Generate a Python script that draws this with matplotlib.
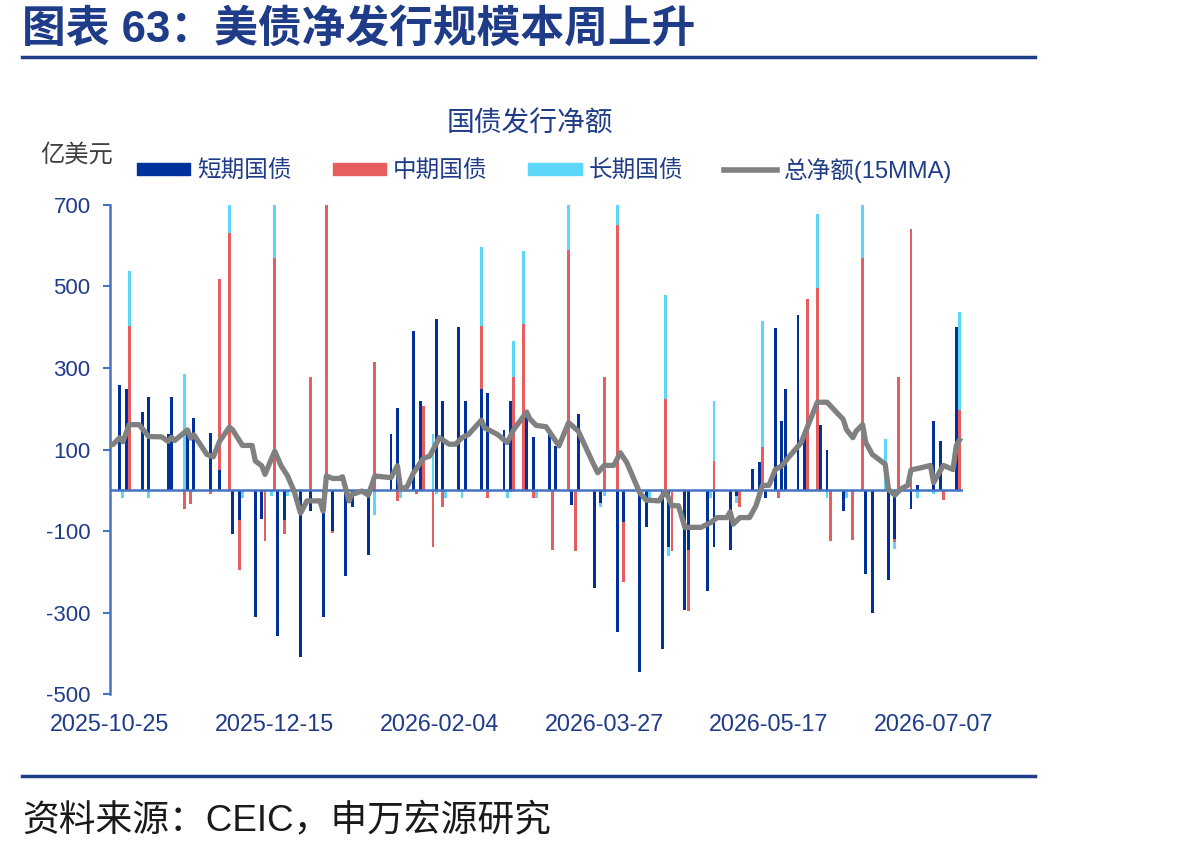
import matplotlib
matplotlib.use("Agg")
import matplotlib.pyplot as plt
import matplotlib.dates as mdates
from matplotlib.patches import Patch
from matplotlib.lines import Line2D
import numpy as np
import pandas as pd

plt.rcParams['font.family'] = ['Liberation Sans', 'Noto Sans CJK SC', 'DejaVu Sans']
plt.rcParams['axes.unicode_minus'] = False

# 数据：日期为距 2025-10-25 的天数，单位：亿美元
start = pd.Timestamp('2025-10-25')

bar_day = [3, 4, 5, 6, 10, 12, 18, 19, 23, 24, 25, 26, 31, 34, 37, 38, 40, 41, 45, 47,
           48, 50, 51, 52, 54, 55, 59, 62, 66, 67, 69, 73, 75, 76, 80, 82, 87, 89, 90, 94,
           95, 96, 97, 100, 101, 103, 104, 108, 109, 110, 115, 117, 122, 123, 124, 125, 128, 129, 131, 132,
           136, 137, 138, 142, 143, 144, 145, 150, 152, 153, 157, 159, 164, 166, 167, 171, 172, 173, 174, 178,
           179, 185, 186, 187, 192, 194, 195, 199, 201, 202, 203, 206, 207, 208, 209, 213, 215, 216, 219, 220,
           222, 223, 227, 228, 230, 233, 234, 236, 240, 241, 243, 244, 248, 250, 255, 257, 258, 262, 263]
short_term = [259, 0, 249, 0, 192, 229, 137, 229, 0, 149, 0, 178, 141, 49, 0, -108, -73, 0, -310, -71,
              0, 0, 0, -358, -73, 0, -410, -50, -310, 0, -100, -210, -40, 0, -160, 0, 137, 202, 0, 390,
              0, 219, 0, 0, 421, 219, 0, 401, 0, 219, 249, 239, 149, 0, 219, 0, 0, 182, 131, 0,
              140, 0, 108, 0, -37, 0, 188, -240, -32, 0, -348, -79, -446, -91, 0, -389, 0, -140, 0, -294,
              -146, -246, 0, -139, -146, -14, 0, 53, 69, 0, -18, 398, 0, 171, 249, 431, 148, 0, 0, 160,
              100, 0, -51, 0, 0, 0, -206, -301, 0, -220, -120, 0, -47, 12, 171, 121, 0, 401, 0]
mid_term = [0, 0, 0, 402, 0, 0, 0, 0, -45, 0, -34, 0, -10, 469, 631, 0, -122, 0, 0, 0,
            -124, 0, 570, 0, -35, 0, 0, 278, 0, 710, -5, 0, 0, 0, 0, 315, 0, -26, 0, 0,
            -8, 0, 208, -139, 0, -40, 0, 0, 0, 0, 155, -18, 0, 0, -5, 278, 408, 0, -20, 0,
            0, -146, 0, 590, 0, -149, 0, 0, 0, 278, 651, -147, 0, 0, 0, 0, 223, 0, -149, 0,
            -151, 0, 0, 73, 0, 0, -40, 0, 0, 107, 0, 0, -18, 0, 0, 0, 0, 469, 496, 0,
            0, -124, 0, 0, -122, 570, 0, 0, 0, 0, -8, 278, 641, 0, 0, 0, -24, 0, 196]
long_term = [0, -20, 0, 137, 0, -20, 0, 0, 286, 0, 0, -5, 0, 0, 100, 0, 0, -20, 0, 0,
             0, -15, 140, 0, 0, -15, 0, 0, 0, 0, 0, 0, 0, -15, 0, -61, 0, 0, -20, 0,
             0, 0, 0, 137, -8, 0, -20, 0, -20, 0, 192, 0, 0, -20, 0, 88, 178, 0, 0, -20,
             0, 0, 0, 130, 0, 0, 0, 0, -10, -15, 60, 0, 0, 0, -20, 0, 255, -21, 0, 0,
             0, 0, -20, 146, 0, -18, 0, 0, 0, 308, 0, 0, 0, 0, 0, 0, 0, 0, 181, 0,
             -20, 0, 0, -20, 0, 140, 0, 0, 126, 0, -15, 0, 0, -20, -10, 0, 0, 0, 241]

mma_day = [0, 1, 3, 4, 6, 9, 12, 16, 18, 19, 20, 24, 25, 26, 30, 32, 34, 37, 38, 41,
           44, 45, 47, 48, 51, 53, 55, 57, 59, 61, 65, 66, 67, 69, 71, 72, 74, 75, 78, 80,
           82, 87, 89, 90, 92, 94, 97, 99, 102, 105, 107, 109, 111, 115, 116, 120, 123, 125, 129, 130,
           132, 135, 139, 142, 145, 149, 151, 153, 156, 158, 160, 164, 166, 170, 172, 174, 176, 178, 183, 186,
           188, 191, 192, 193, 195, 198, 200, 202, 204, 206, 208, 210, 214, 216, 219, 222, 227, 228, 230, 231,
           233, 234, 236, 240, 241, 243, 245, 247, 248, 251, 254, 255, 258, 261, 262, 263]
mma_value = [110, 113, 129, 119, 161, 161, 132, 131, 120, 130, 122, 148, 128, 136, 88, 82, 121, 155, 148, 110,
             110, 72, 60, 39, 96, 60, 35, -2, -56, -26, -26, -51, 35, 29, 29, 33, -26, -10, -2, -12,
             35, 31, 60, 2, 9, 43, 78, 84, 129, 113, 113, 129, 137, 172, 153, 137, 117, 149, 192, 175,
             159, 156, 109, 166, 145, 76, 43, 61, 61, 92, 68, -6, -24, -26, -2, -38, -38, -91, -91, -79,
             -67, -67, -53, -83, -67, -67, -38, 12, 12, 51, 60, 80, 117, 157, 216, 216, 174, 149, 129, 145,
             161, 117, 88, 64, 2, -12, 4, 12, 50, 55, 61, 19, 61, 51, 109, 123]

series_names = ['短期国债', '中期国债', '长期国债']
line_name = '总净额(15MMA)'
tick_dates = ['2025-10-25', '2025-12-15', '2026-02-04', '2026-03-27', '2026-05-17', '2026-07-07']
y_ticks = [-500, -300, -100, 100, 300, 500, 700]

colors = ['#00309A', '#E85D5D', '#5ED6FA']
line_color = '#808080'
axis_blue = '#4472C4'
text_blue = '#1F3C88'

bar_dates = start + pd.to_timedelta(bar_day, unit='D')
mma_dates = start + pd.to_timedelta(mma_day, unit='D')

fig = plt.figure(figsize=(11.9, 8.52), dpi=100)
ax = fig.add_axes([0.0924, 0.1854, 0.7166, 0.574])

# 堆积柱：正值向上堆，负值向下堆
pos_base = np.zeros(len(bar_day))
neg_base = np.zeros(len(bar_day))
for vals, c in zip([short_term, mid_term, long_term], colors):
    vals = np.array(vals, dtype=float)
    pos = np.where(vals > 0, vals, 0)
    neg = np.where(vals < 0, vals, 0)
    ax.bar(bar_dates, pos, width=0.9, bottom=pos_base, color=c, linewidth=0, zorder=2)
    ax.bar(bar_dates, neg, width=0.9, bottom=neg_base, color=c, linewidth=0, zorder=2)
    pos_base += pos
    neg_base += neg

ax.plot(mma_dates, mma_value, color=line_color, lw=3.8, solid_joinstyle='round', zorder=4)
ax.axhline(0, color=axis_blue, lw=1.8, zorder=3)

ax.set_ylim(-500, 700)
ax.set_xlim(start, start + pd.Timedelta(days=264))
ax.set_yticks(y_ticks)
ax.set_yticklabels([str(v) for v in y_ticks])
ax.set_xticks(pd.to_datetime(tick_dates))
ax.xaxis.set_major_formatter(mdates.DateFormatter('%Y-%m-%d'))

for s in ['top', 'right', 'bottom']:
    ax.spines[s].set_visible(False)
ax.spines['left'].set_color(axis_blue)
ax.spines['left'].set_linewidth(1.8)
ax.tick_params(axis='y', colors=axis_blue, labelcolor=text_blue, labelsize=16,
               length=5, width=1.5, pad=9)
ax.tick_params(axis='x', length=0, labelcolor=text_blue, labelsize=16.8, pad=14)

# 标题与图例
fig.text(0.0185, 0.965, '图表 63：美债净发行规模本周上升', fontsize=31.5, fontweight='bold',
         color=text_blue, va='center', ha='left')
fig.add_artist(Line2D([0.0185, 0.870], [0.933, 0.933], color=text_blue, lw=2.5))
fig.add_artist(Line2D([0.0185, 0.870], [0.0892, 0.0892], color=text_blue, lw=2.5))
fig.text(0.0185, 0.037, '资料来源：CEIC，申万宏源研究', fontsize=26.5, color='#1a1a1a',
         va='center', ha='left')

fig.text(0.445, 0.854, '国债发行净额', fontsize=20, color=text_blue, ha='center', va='center')
fig.text(0.0336, 0.818, '亿美元', fontsize=17.5, color='#404040', ha='left', va='center')

handles = [Patch(color=c) for c in colors] + [Line2D([], [], color=line_color, lw=4)]
fig.legend(handles, series_names + [line_name], loc='center left',
           bbox_to_anchor=(0.115, 0.8005), ncol=4, frameon=False, fontsize=17,
           labelcolor=text_blue, handlelength=2.25, handleheight=0.42, handletextpad=0.3,
           columnspacing=1.74, borderpad=0, borderaxespad=0)

fig.savefig('out.png', dpi=100)
